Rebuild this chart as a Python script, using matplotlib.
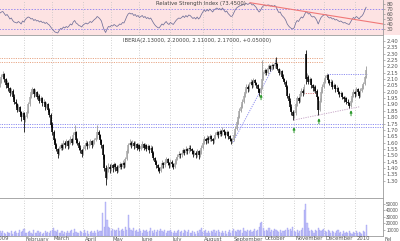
import numpy as np
import pandas as pd
import matplotlib
matplotlib.use('Agg')
import matplotlib.pyplot as plt
from matplotlib.patches import Rectangle
from matplotlib.transforms import Bbox, TransformedBbox, blended_transform_factory

# ---------------- data ----------------
holidays = ['2009-01-01', '2009-04-10', '2009-04-13', '2009-05-01', '2009-12-25', '2010-01-01']
calendar = pd.bdate_range('2009-01-02', '2010-02-26', freq='C', holidays=holidays)

opens = [2.02,2.04,2.06,2.09,2.05,2.08,2.12,2.14,2.10,2.05,
 2.07,2.03,1.99,2.01,1.96,1.92,1.90,1.86,1.88,1.84,
 1.80,1.83,1.78,1.80,1.84,1.90,1.96,2.00,2.02,1.98,
 2.00,1.96,1.97,1.93,1.95,1.91,1.92,1.88,1.90,1.86,
 1.82,1.74,1.68,1.62,1.58,1.55,1.51,1.55,1.58,1.56,
 1.60,1.58,1.61,1.57,1.60,1.63,1.60,1.66,1.68,1.62,
 1.60,1.56,1.54,1.51,1.55,1.58,1.60,1.57,1.59,1.61,
 1.58,1.60,1.62,1.64,1.68,1.66,1.62,1.58,1.50,1.40,
 1.32,1.38,1.41,1.39,1.42,1.40,1.43,1.41,1.38,1.40,
 1.43,1.41,1.44,1.42,1.47,1.53,1.58,1.60,1.58,1.60,
 1.57,1.59,1.56,1.58,1.55,1.57,1.59,1.56,1.58,1.55,
 1.57,1.54,1.56,1.52,1.48,1.45,1.42,1.40,1.38,1.41,
 1.44,1.42,1.45,1.47,1.44,1.42,1.45,1.43,1.41,1.44,
 1.47,1.49,1.51,1.50,1.52,1.54,1.52,1.55,1.53,1.56,
 1.55,1.53,1.51,1.52,1.50,1.53,1.50,1.52,1.56,1.60,
 1.63,1.61,1.64,1.62,1.65,1.63,1.61,1.64,1.66,1.68,
 1.66,1.69,1.67,1.70,1.68,1.66,1.68,1.65,1.63,1.61,
 1.62,1.66,1.71,1.76,1.80,1.85,1.88,1.92,1.97,2.00,
 2.04,2.02,2.06,2.08,2.05,2.09,2.07,2.05,2.02,1.99,
 2.03,2.10,2.14,2.17,2.15,2.19,2.20,2.18,2.21,2.20,
 2.23,2.22,2.18,2.15,2.16,2.12,2.10,2.08,2.04,1.97,
 1.93,1.88,1.84,1.81,1.83,1.90,1.95,1.93,1.98,2.01,
 1.99,2.30,2.10,2.12,2.08,2.10,2.05,2.03,2.04,2.01,
 1.96,1.86,1.93,2.00,2.04,2.08,2.11,2.13,2.09,2.07,
 2.08,2.04,2.05,2.02,2.03,2.00,1.98,1.99,1.96,1.94,
 1.95,1.92,1.91,1.89,1.93,1.97,2.00,1.98,2.02,2.00,
 1.97,2.01,2.03,2.06,2.13]
highs = [2.06,2.08,2.10,2.10,2.10,2.14,2.16,2.15,2.11,2.09,
 2.08,2.04,2.03,2.02,1.98,1.94,1.91,1.90,1.89,1.85,
 1.85,1.84,1.82,1.86,1.92,1.98,2.02,2.04,2.03,2.02,
 2.01,1.99,1.98,1.97,1.96,1.94,1.93,1.92,1.91,1.87,
 1.83,1.76,1.70,1.64,1.60,1.56,1.57,1.60,1.59,1.62,
 1.61,1.63,1.62,1.62,1.65,1.64,1.68,1.74,1.69,1.64,
 1.61,1.58,1.55,1.57,1.60,1.62,1.61,1.61,1.63,1.62,
 1.62,1.64,1.66,1.74,1.70,1.67,1.63,1.59,1.51,1.42,
 1.40,1.44,1.43,1.44,1.43,1.45,1.44,1.42,1.42,1.45,
 1.44,1.46,1.45,1.49,1.55,1.60,1.63,1.61,1.62,1.61,
 1.61,1.60,1.60,1.59,1.59,1.61,1.60,1.60,1.59,1.59,
 1.58,1.58,1.57,1.53,1.49,1.46,1.43,1.41,1.43,1.46,
 1.45,1.47,1.49,1.48,1.45,1.47,1.46,1.44,1.46,1.49,
 1.51,1.53,1.52,1.54,1.56,1.55,1.57,1.56,1.58,1.58,
 1.56,1.54,1.54,1.53,1.55,1.54,1.54,1.58,1.62,1.65,
 1.64,1.66,1.65,1.67,1.66,1.64,1.66,1.68,1.70,1.69,
 1.71,1.70,1.72,1.71,1.69,1.70,1.69,1.66,1.64,1.64,
 1.68,1.73,1.78,1.82,1.87,1.90,1.94,1.99,2.02,2.06,
 2.05,2.08,2.10,2.09,2.11,2.10,2.08,2.06,2.03,2.05,
 2.25,2.16,2.19,2.18,2.21,2.22,2.21,2.23,2.22,2.26,
 2.27,2.23,2.19,2.18,2.17,2.14,2.11,2.09,2.05,1.99,
 1.95,1.90,1.86,1.85,1.92,1.97,1.96,2.00,2.03,2.02,
 2.06,2.33,2.15,2.13,2.12,2.11,2.06,2.05,2.05,2.02,
 1.97,1.95,2.02,2.06,2.10,2.13,2.15,2.14,2.10,2.10,
 2.09,2.07,2.06,2.05,2.04,2.01,2.01,2.00,1.97,1.97,
 1.96,1.94,1.92,1.95,1.99,2.02,2.01,2.04,2.03,2.01,
 2.03,2.05,2.08,2.13,2.20]
lows = [2.01,2.03,2.05,2.03,2.04,2.07,2.10,2.08,2.03,2.04,
 2.01,1.97,1.98,1.94,1.90,1.88,1.84,1.85,1.82,1.77,
 1.79,1.68,1.76,1.79,1.83,1.89,1.95,1.98,1.96,1.97,
 1.94,1.95,1.91,1.92,1.89,1.90,1.86,1.87,1.84,1.80,
 1.72,1.66,1.60,1.56,1.53,1.48,1.50,1.54,1.54,1.55,
 1.56,1.57,1.55,1.56,1.59,1.58,1.59,1.65,1.60,1.58,
 1.54,1.52,1.49,1.50,1.54,1.57,1.55,1.56,1.58,1.56,
 1.57,1.59,1.61,1.63,1.64,1.60,1.56,1.47,1.38,1.27,
 1.31,1.37,1.36,1.38,1.37,1.39,1.38,1.36,1.37,1.39,
 1.39,1.40,1.40,1.41,1.46,1.52,1.57,1.56,1.57,1.55,
 1.56,1.54,1.55,1.53,1.54,1.56,1.54,1.55,1.53,1.54,
 1.52,1.53,1.50,1.46,1.43,1.40,1.38,1.36,1.37,1.40,
 1.40,1.41,1.44,1.42,1.40,1.41,1.41,1.39,1.40,1.43,
 1.46,1.48,1.48,1.49,1.51,1.50,1.51,1.51,1.52,1.53,
 1.51,1.49,1.50,1.48,1.49,1.47,1.49,1.51,1.55,1.59,
 1.59,1.60,1.60,1.61,1.61,1.59,1.60,1.63,1.65,1.64,
 1.65,1.65,1.66,1.66,1.64,1.65,1.63,1.61,1.59,1.60,
 1.61,1.65,1.70,1.75,1.79,1.84,1.87,1.91,1.96,1.99,
 2.00,2.01,2.05,2.03,2.04,2.05,2.03,2.00,1.97,1.98,
 2.02,2.09,2.13,2.13,2.14,2.18,2.16,2.17,2.18,2.19,
 2.20,2.17,2.13,2.14,2.11,2.09,2.06,2.02,1.95,1.91,
 1.86,1.82,1.78,1.79,1.82,1.89,1.91,1.92,1.97,1.97,
 1.98,2.06,2.09,2.06,2.07,2.03,2.01,2.00,1.99,1.94,
 1.82,1.85,1.92,1.99,2.03,2.07,2.10,2.07,2.05,2.06,
 2.02,2.03,2.00,2.01,1.98,1.96,1.97,1.94,1.92,1.93,
 1.90,1.90,1.87,1.88,1.92,1.96,1.96,1.97,1.98,1.95,
 1.96,2.00,2.02,2.05,2.11]
closes = [2.04,2.06,2.08,2.05,2.08,2.12,2.14,2.10,2.05,2.07,
 2.03,1.99,2.01,1.96,1.92,1.90,1.86,1.88,1.84,1.80,
 1.83,1.78,1.80,1.84,1.90,1.96,2.00,2.02,1.98,2.00,
 1.96,1.97,1.93,1.95,1.91,1.92,1.88,1.90,1.86,1.82,
 1.74,1.68,1.62,1.58,1.55,1.51,1.55,1.58,1.56,1.60,
 1.58,1.61,1.57,1.60,1.63,1.60,1.66,1.68,1.62,1.60,
 1.56,1.54,1.51,1.55,1.58,1.60,1.57,1.59,1.61,1.58,
 1.60,1.62,1.64,1.68,1.66,1.62,1.58,1.50,1.40,1.32,
 1.38,1.41,1.39,1.42,1.40,1.43,1.41,1.38,1.40,1.43,
 1.41,1.44,1.42,1.47,1.53,1.58,1.60,1.58,1.60,1.57,
 1.59,1.56,1.58,1.55,1.57,1.59,1.56,1.58,1.55,1.57,
 1.54,1.56,1.52,1.48,1.45,1.42,1.40,1.38,1.41,1.44,
 1.42,1.45,1.47,1.44,1.42,1.45,1.43,1.41,1.44,1.47,
 1.49,1.51,1.50,1.52,1.54,1.52,1.55,1.53,1.56,1.55,
 1.53,1.51,1.52,1.50,1.53,1.50,1.52,1.56,1.60,1.63,
 1.61,1.64,1.62,1.65,1.63,1.61,1.64,1.66,1.68,1.66,
 1.69,1.67,1.70,1.68,1.66,1.68,1.65,1.63,1.61,1.62,
 1.66,1.71,1.76,1.80,1.85,1.88,1.92,1.97,2.00,2.04,
 2.02,2.06,2.08,2.05,2.09,2.07,2.05,2.02,1.99,2.03,
 2.10,2.14,2.17,2.15,2.19,2.20,2.18,2.21,2.20,2.23,
 2.22,2.18,2.15,2.16,2.12,2.10,2.08,2.04,1.97,1.93,
 1.88,1.84,1.81,1.83,1.90,1.95,1.93,1.98,2.01,1.99,
 2.04,2.10,2.12,2.08,2.10,2.05,2.03,2.04,2.01,1.96,
 1.86,1.93,2.00,2.04,2.08,2.11,2.13,2.09,2.07,2.08,
 2.04,2.05,2.02,2.03,2.00,1.98,1.99,1.96,1.94,1.95,
 1.92,1.91,1.89,1.93,1.97,2.00,1.98,2.02,2.00,1.97,
 2.01,2.03,2.06,2.12,2.17]
rsi = [62,63,64,60,62,64,65,61,57,59,
 55,50,52,47,44,43,42,45,43,40,
 46,44,49,52,54,53,50,51,47,49,
 46,47,44,46,43,44,41,43,40,38,
 34,30,27,24,23,22,27,31,30,34,
 32,35,33,36,40,38,44,47,42,40,
 37,36,34,38,40,42,40,42,45,43,
 46,49,51,55,53,50,46,36,28,23,
 30,35,34,37,36,39,37,35,37,40,
 39,43,42,48,55,60,62,60,61,57,
 59,55,57,53,55,57,53,55,51,53,
 50,52,47,42,38,35,33,32,36,40,
 38,42,45,41,39,43,41,39,43,47,
 50,52,51,53,56,53,57,54,58,57,
 54,51,53,50,54,50,53,59,64,68,
 65,69,66,70,67,64,68,70,72,69,
 71,68,72,68,64,66,61,58,55,56,
 62,68,72,74,76,77,78,79,80,81,
 79,81,82,78,79,76,73,68,64,67,
 73,76,78,76,78,78,76,77,75,77,
 75,68,63,64,58,55,52,47,40,36,
 33,31,30,33,42,47,45,50,54,52,
 57,63,64,60,61,56,54,55,52,47,
 40,47,53,56,58,59,58,54,52,53,
 50,51,48,49,47,45,46,44,42,43,
 41,40,39,44,49,53,51,55,53,50,
 54,56,60,67,73.45]
volume_k = [4,6,3,5,7,4,8,5,3,6,
 5,4,7,3,6,8,4,5,9,6,
 7,11,5,4,6,8,5,3,9,4,
 5,7,4,6,3,5,8,4,6,5,
 7,9,12,8,6,10,5,4,7,3,
 6,5,8,4,7,9,5,11,6,4,
 5,8,6,4,9,5,7,3,6,8,
 5,7,4,9,6,8,8,35,14,52,
 24,14,13,8,11,9,7,10,12,8,
 9,11,7,14,10,32,13,9,8,12,
 7,9,6,11,8,5,10,7,9,6,
 8,12,7,5,9,6,10,8,11,7,
 6,9,5,8,7,10,6,4,8,5,
 7,9,6,8,5,10,7,6,9,4,
 5,8,6,3,7,5,9,12,6,8,
 10,5,7,4,8,6,9,5,7,10,
 6,4,8,5,7,3,6,9,5,7,
 11,8,6,10,7,9,5,12,8,6,
 9,7,10,6,8,11,7,9,14,20,
 22,12,8,10,7,13,6,9,8,11,
 10,7,6,9,5,8,7,10,12,9,
 11,8,14,7,6,9,5,8,10,12,
 40,50,20,12,8,9,7,5,10,8,
 12,9,7,10,11,8,6,9,7,5,
 8,6,4,7,9,5,6,3,7,4,
 6,5,8,4,3,6,5,7,4,6,
 5,3,7,6,17]

month_names = ['2009', 'February', 'March', 'April', 'May', 'June', 'July', 'August',
               'September', 'October', 'November', 'December', '2010', 'February']
price_ticks = [1.30,1.35,1.40,1.45,1.50,1.55,1.60,1.65,1.70,1.75,1.80,1.85,1.90,1.95,
               2.00,2.05,2.10,2.15,2.20,2.25,2.30,2.35,2.40]
rsi_ticks = [30, 40, 50, 60, 70, 80]
vol_ticks = [10, 20, 30, 40, 50]
vol_tick_labels = ['10000', '20000', '30000', '40000', '50000']
title_price = 'IBERIA(2.13000, 2.20000, 2.11000, 2.17000, +0.05000)'
title_rsi = 'Relative Strength Index (73.4500)'

# annotation levels
orange_levels = [2.264, 2.232]
blue_levels = [1.744, 1.725]
support_arrows = [(189.4, 1.959), (212.8, 1.70), (230.5, 1.77), (253.3, 1.833)]

# ---------------- figure ----------------
W, H = 400, 241
fig = plt.figure(figsize=(W / 100, H / 100), dpi=100)
fig.patch.set_facecolor('white')
fig.patches.append(Rectangle((0, 1 - 35 / H), 1, 35 / H, transform=fig.transFigure,
                             facecolor='#fde3e3', edgecolor='none', zorder=-5))

L = -8 / W
Wd = 391 / W
ax_r = fig.add_axes([L, 1 - 35 / H, Wd, 35 / H])
ax_p = fig.add_axes([L, 1 - 198 / H, Wd, 162 / H])
ax_v = fig.add_axes([L, 1 - 236 / H, Wd, 38 / H])

n = len(closes)
x = np.arange(n)
month_idx = [0] + [i for i in range(1, len(calendar)) if calendar[i].month != calendar[i - 1].month]
x_right = month_idx[-1]
x_left = -1.7

grid_kw = dict(color='#c4c4c4', lw=0.6, ls=(0, (1, 2)), zorder=1)
fs = 3.8
small_font = ['Liberation Sans', 'DejaVu Sans']
for ax in (ax_r, ax_p, ax_v):
    ax.set_xlim(x_left, x_right)
    for m in month_idx:
        ax.axvline(m, **grid_kw)
    ax.set_xticks([])
    for s in ('top', 'left'):
        ax.spines[s].set_visible(False)
    ax.spines['right'].set_color('#9a9a9a')
    ax.spines['right'].set_linewidth(0.6)
    ax.spines['bottom'].set_color('#9a9a9a')
    ax.spines['bottom'].set_linewidth(0.6)
    ax.yaxis.tick_right()
    ax.tick_params(axis='y', length=1.5, width=0.4, colors='#808080', labelsize=fs,
                   labelcolor='#555555', pad=1.2)

# RSI panel
ax_r.set_facecolor('#fde3e3')
ax_r.set_ylim(18, 88)
ax_r.set_yticks(rsi_ticks)
ax_r.set_yticklabels([str(t) for t in rsi_ticks])
for lv in (70, 30):
    ax_r.axhline(lv, color='#9c8cf0', lw=0.7, ls=(0, (1.5, 1.5)), zorder=2)
ax_r.plot(x, rsi, color='#6f6f98', lw=0.55, zorder=3)
ax_r.plot([181.5, x_right], [82.6, 40], color='#f07878', lw=0.8, zorder=3)

# Price panel
ax_p.set_facecolor('none')
ax_p.set_ylim(1.164, 2.439)
ax_p.set_yticks(price_ticks)
ax_p.set_yticklabels(['%.2f' % t for t in price_ticks])
o = np.array(opens); h = np.array(highs); lo = np.array(lows); c = np.array(closes)
up = c >= o
ax_p.vlines(x[up], lo[up], h[up], color='#9a9a9a', lw=0.6, zorder=4)
ax_p.vlines(x[up], np.minimum(o, c)[up], np.maximum(o, c)[up], color='#a8a8a8', lw=1.1, zorder=4)
ax_p.vlines(x[~up], lo[~up], h[~up], color='#111111', lw=0.6, zorder=5)
ax_p.vlines(x[~up], np.minimum(o, c)[~up], np.maximum(o, c)[~up], color='#000000', lw=1.1, zorder=5)

dot = (0, (1.2, 1.2))
for lv in orange_levels:
    ax_p.plot([x_left, 233.4], [lv, lv], color='#e8a888', lw=0.7, ls=dot, zorder=2)
for lv in blue_levels:
    ax_p.plot([x_left, x_right], [lv, lv], color='#9090f0', lw=0.7, ls=dot, zorder=2)
ax_p.plot([169.5, 200.7], [1.605, 2.25], color='#9090f0', lw=0.7, ls=dot, zorder=3)
ax_p.plot([212.8, 259.7], [1.778, 1.883], color='#c8a8c8', lw=0.7, ls=dot, zorder=3)
ax_p.plot([236.2, 264.6], [2.138, 2.138], color='#9090f0', lw=0.7, ls=dot, zorder=3)
ax_p.plot([219.2, 229.0], [1.993, 1.993], color='#e08080', lw=0.7, ls=dot, zorder=3)
for xi, pi in support_arrows:
    ax_p.annotate('', xy=(xi, pi + 0.022), xytext=(xi, pi - 0.022),
                  arrowprops=dict(arrowstyle='-|>', color='#2e9a2e', lw=0.7,
                                  mutation_scale=3.5, shrinkA=0, shrinkB=0), zorder=6)

# Volume panel
ax_v.set_facecolor('none')
ax_v.set_ylim(0, 58.5)
ax_v.bar(x, volume_k, width=0.8, color='#c4c4fa', edgecolor='#9c9cf0', linewidth=0.25, zorder=3)
ax_v.set_yticks(vol_ticks)
ax_v.set_yticklabels(vol_tick_labels)
ax_v.tick_params(axis='y', pad=0.8)
for lab in ax_v.get_yticklabels():
    lab.set_fontsize(3.3)
    lab.set_family(small_font)

# titles
fig.text(201 / W, 1 - 3.5 / H, title_rsi, fontsize=fs, color='#444444', ha='center', va='center')
fig.text(197 / W, 1 - 40.5 / H, title_price, fontsize=fs, color='#444444', ha='center', va='center')

# month labels
tr = blended_transform_factory(ax_v.transData, fig.transFigure)
clip = TransformedBbox(Bbox.from_extents(0, 0, 391 / W, 1), fig.transFigure)
for m, name in zip(month_idx, month_names):
    t = fig.text(m + 1.0, 1 - 236.5 / H, name, transform=tr, fontsize=fs, color='#555555',
                 ha='left', va='top')
    t.set_clip_box(clip)
    t.set_clip_on(True)

fig.savefig('out.png', dpi=100)
